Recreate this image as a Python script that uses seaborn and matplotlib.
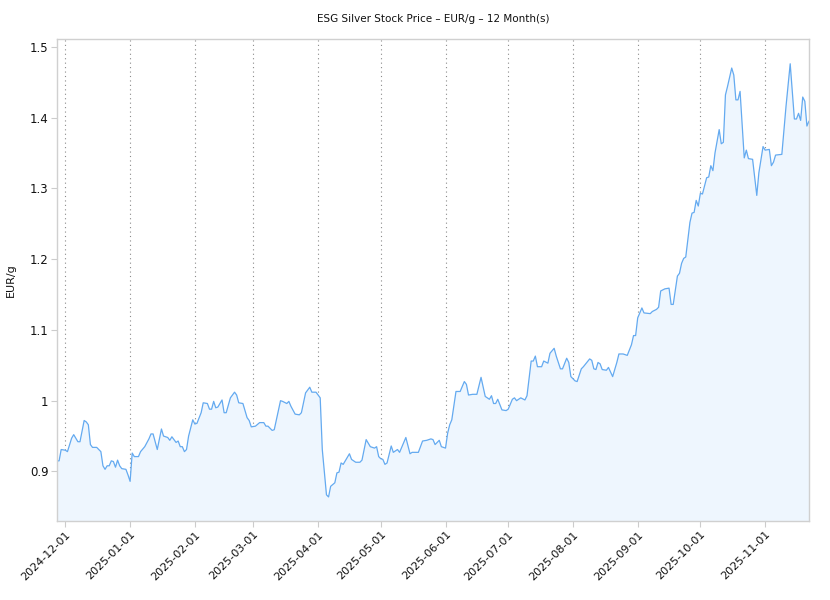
import matplotlib
matplotlib.use("Agg")
import matplotlib.pyplot as plt
from matplotlib.ticker import FuncFormatter
import seaborn as sns
import pandas as pd

title = "ESG Silver Stock Price – EUR/g – 12 Month(s)"
y_label = "EUR/g"

dates = [
    "2024-11-27", "2024-11-28", "2024-11-29", "2024-12-01", "2024-12-02", "2024-12-04", "2024-12-05",
    "2024-12-07", "2024-12-08", "2024-12-10", "2024-12-11", "2024-12-12", "2024-12-13", "2024-12-14",
    "2024-12-16", "2024-12-18", "2024-12-19", "2024-12-20", "2024-12-21", "2024-12-22", "2024-12-23",
    "2024-12-24", "2024-12-25", "2024-12-26", "2024-12-27", "2024-12-28", "2024-12-30", "2024-12-31",
    "2025-01-01", "2025-01-02", "2025-01-03", "2025-01-05", "2025-01-06", "2025-01-08", "2025-01-10",
    "2025-01-11", "2025-01-12", "2025-01-14", "2025-01-16", "2025-01-17", "2025-01-19", "2025-01-20",
    "2025-01-21", "2025-01-23", "2025-01-24", "2025-01-25", "2025-01-26", "2025-01-27", "2025-01-28",
    "2025-01-29", "2025-01-31", "2025-02-01", "2025-02-02", "2025-02-04", "2025-02-05", "2025-02-07",
    "2025-02-08", "2025-02-09", "2025-02-10", "2025-02-11", "2025-02-12", "2025-02-14", "2025-02-15",
    "2025-02-16", "2025-02-18", "2025-02-20", "2025-02-21", "2025-02-22", "2025-02-24", "2025-02-26",
    "2025-02-27", "2025-02-28", "2025-03-02", "2025-03-04", "2025-03-06", "2025-03-07", "2025-03-08",
    "2025-03-10", "2025-03-11", "2025-03-14", "2025-03-15", "2025-03-17", "2025-03-18", "2025-03-19",
    "2025-03-21", "2025-03-23", "2025-03-24", "2025-03-26", "2025-03-28", "2025-03-29", "2025-03-31",
    "2025-04-02", "2025-04-03", "2025-04-05", "2025-04-06", "2025-04-07", "2025-04-09", "2025-04-10",
    "2025-04-11", "2025-04-12", "2025-04-13", "2025-04-16", "2025-04-17", "2025-04-19", "2025-04-21",
    "2025-04-22", "2025-04-24", "2025-04-26", "2025-04-28", "2025-04-29", "2025-04-30", "2025-05-01",
    "2025-05-02", "2025-05-03", "2025-05-04", "2025-05-06", "2025-05-07", "2025-05-09", "2025-05-10",
    "2025-05-13", "2025-05-15", "2025-05-16", "2025-05-19", "2025-05-21", "2025-05-23", "2025-05-25",
    "2025-05-26", "2025-05-27", "2025-05-29", "2025-05-30", "2025-06-01", "2025-06-02", "2025-06-03",
    "2025-06-04", "2025-06-06", "2025-06-08", "2025-06-10", "2025-06-11", "2025-06-12", "2025-06-14",
    "2025-06-16", "2025-06-18", "2025-06-20", "2025-06-22", "2025-06-23", "2025-06-24", "2025-06-25",
    "2025-06-26", "2025-06-28", "2025-06-30", "2025-07-01", "2025-07-03", "2025-07-04", "2025-07-05",
    "2025-07-07", "2025-07-09", "2025-07-10", "2025-07-12", "2025-07-13", "2025-07-14", "2025-07-15",
    "2025-07-17", "2025-07-18", "2025-07-20", "2025-07-21", "2025-07-23", "2025-07-24", "2025-07-26",
    "2025-07-27", "2025-07-29", "2025-07-30", "2025-07-31", "2025-08-02", "2025-08-03", "2025-08-05",
    "2025-08-06", "2025-08-09", "2025-08-10", "2025-08-11", "2025-08-12", "2025-08-13", "2025-08-14",
    "2025-08-15", "2025-08-17", "2025-08-18", "2025-08-20", "2025-08-22", "2025-08-23", "2025-08-25",
    "2025-08-27", "2025-08-29", "2025-08-30", "2025-08-31", "2025-09-01", "2025-09-03", "2025-09-04",
    "2025-09-07", "2025-09-08", "2025-09-10", "2025-09-11", "2025-09-12", "2025-09-14", "2025-09-16",
    "2025-09-17", "2025-09-18", "2025-09-20", "2025-09-21", "2025-09-22", "2025-09-23", "2025-09-24",
    "2025-09-26", "2025-09-27", "2025-09-28", "2025-09-29", "2025-09-30", "2025-10-01", "2025-10-02",
    "2025-10-04", "2025-10-05", "2025-10-06", "2025-10-07", "2025-10-08", "2025-10-10", "2025-10-11",
    "2025-10-12", "2025-10-13", "2025-10-14", "2025-10-16", "2025-10-17", "2025-10-18", "2025-10-19",
    "2025-10-20", "2025-10-22", "2025-10-23", "2025-10-24", "2025-10-26", "2025-10-28", "2025-10-29",
    "2025-10-31", "2025-11-01", "2025-11-03", "2025-11-04", "2025-11-05", "2025-11-06", "2025-11-09",
    "2025-11-11", "2025-11-13", "2025-11-15", "2025-11-16", "2025-11-17", "2025-11-18", "2025-11-19",
    "2025-11-20", "2025-11-21", "2025-11-22",
]

prices = [
    0.915, 0.915, 0.931, 0.930, 0.928, 0.947, 0.952,
    0.942, 0.942, 0.972, 0.970, 0.966, 0.938, 0.934,
    0.934, 0.928, 0.908, 0.903, 0.908, 0.908, 0.915,
    0.914, 0.906, 0.916, 0.908, 0.904, 0.903, 0.895,
    0.886, 0.926, 0.921, 0.921, 0.928, 0.935, 0.946,
    0.953, 0.953, 0.931, 0.960, 0.950, 0.948, 0.944,
    0.949, 0.941, 0.943, 0.935, 0.935, 0.928, 0.931,
    0.950, 0.973, 0.967, 0.968, 0.983, 0.997, 0.996,
    0.988, 0.988, 0.999, 0.990, 0.991, 1.001, 0.983,
    0.983, 1.004, 1.012, 1.008, 0.997, 0.996, 0.976,
    0.972, 0.963, 0.964, 0.969, 0.969, 0.964, 0.964,
    0.958, 0.959, 1.000, 0.999, 0.996, 0.999, 0.992,
    0.981, 0.980, 0.983, 1.011, 1.019, 1.012, 1.012,
    1.004, 0.931, 0.867, 0.864, 0.879, 0.884, 0.898,
    0.899, 0.912, 0.910, 0.925, 0.917, 0.913, 0.913,
    0.916, 0.945, 0.935, 0.933, 0.935, 0.921, 0.918,
    0.917, 0.910, 0.912, 0.936, 0.927, 0.931, 0.927,
    0.948, 0.925, 0.927, 0.927, 0.943, 0.944, 0.946,
    0.945, 0.938, 0.944, 0.935, 0.933, 0.954, 0.966,
    0.973, 1.013, 1.013, 1.027, 1.023, 1.008, 1.009,
    1.009, 1.033, 1.006, 1.002, 1.007, 0.996, 0.996,
    1.002, 0.987, 0.986, 0.988, 1.002, 1.004, 1.000,
    1.004, 1.001, 1.007, 1.056, 1.056, 1.063, 1.048,
    1.048, 1.056, 1.053, 1.067, 1.074, 1.063, 1.045,
    1.045, 1.060, 1.054, 1.034, 1.028, 1.027, 1.045,
    1.048, 1.059, 1.057, 1.045, 1.044, 1.054, 1.052,
    1.044, 1.043, 1.047, 1.034, 1.054, 1.066, 1.066,
    1.064, 1.079, 1.092, 1.092, 1.117, 1.131, 1.124,
    1.123, 1.126, 1.129, 1.132, 1.155, 1.158, 1.159,
    1.136, 1.136, 1.176, 1.180, 1.194, 1.201, 1.203,
    1.252, 1.265, 1.266, 1.283, 1.275, 1.293, 1.292,
    1.315, 1.316, 1.332, 1.325, 1.350, 1.383, 1.363,
    1.365, 1.432, 1.444, 1.470, 1.460, 1.425, 1.425,
    1.437, 1.343, 1.354, 1.342, 1.341, 1.290, 1.322,
    1.359, 1.354, 1.355, 1.332, 1.337, 1.347, 1.348,
    1.416, 1.476, 1.398, 1.398, 1.406, 1.396, 1.429,
    1.423, 1.388, 1.395,
]

month_ticks = ["2024-12-01", "2025-01-01", "2025-02-01", "2025-03-01", "2025-04-01", "2025-05-01",
               "2025-06-01", "2025-07-01", "2025-08-01", "2025-09-01", "2025-10-01", "2025-11-01"]
y_ticks = [0.9, 1.0, 1.1, 1.2, 1.3, 1.4, 1.5]

df = pd.DataFrame({"date": pd.to_datetime(dates), "price": prices})

sns.set_theme(style="white")
plt.rcParams["font.family"] = ["DejaVu Sans"]

fig = plt.figure(figsize=(8.3, 6.0), dpi=100)
ax = fig.add_axes([57 / 830, 1 - 521 / 600, (809 - 57) / 830, (521 - 39) / 600])

line_color = "#64aaf0"
tick_dates = pd.to_datetime(month_ticks)
for d in tick_dates:
    ax.axvline(d, color="#8a8a8a", linestyle=(0, (1, 3)), linewidth=0.8, zorder=1)

ax.fill_between(df["date"], df["price"], 0.5, color="#eef6fe", zorder=2, linewidth=0)
sns.lineplot(data=df, x="date", y="price", ax=ax, color=line_color, linewidth=0.9, zorder=3)

ax.set_xlim(df["date"].iloc[0], df["date"].iloc[-1])
ax.set_ylim(0.830, 1.511)

ax.set_xticks(tick_dates)
ax.set_xticklabels(month_ticks, rotation=45, ha="right", rotation_mode="anchor", fontsize=8)
ax.set_yticks(y_ticks)
ax.yaxis.set_major_formatter(FuncFormatter(lambda v, p: f"{v:g}"))
ax.tick_params(axis="y", labelsize=8.5)

ax.tick_params(axis="both", which="major", length=4, width=0.8, color="#cccccc",
               direction="out", bottom=True, left=True, pad=2, labelcolor="#111111")

for s in ax.spines.values():
    s.set_color("#d0d0d0")
    s.set_linewidth(1.0)
    s.set_zorder(4)

ax.set_xlabel("")
ax.set_ylabel(y_label, fontsize=8, labelpad=10, color="#111111")
fig.text(433 / 830, 1 - 19 / 600, title, ha="center", va="center", fontsize=7.5, color="#111111")

fig.savefig("out.png", dpi=100, facecolor="white")
